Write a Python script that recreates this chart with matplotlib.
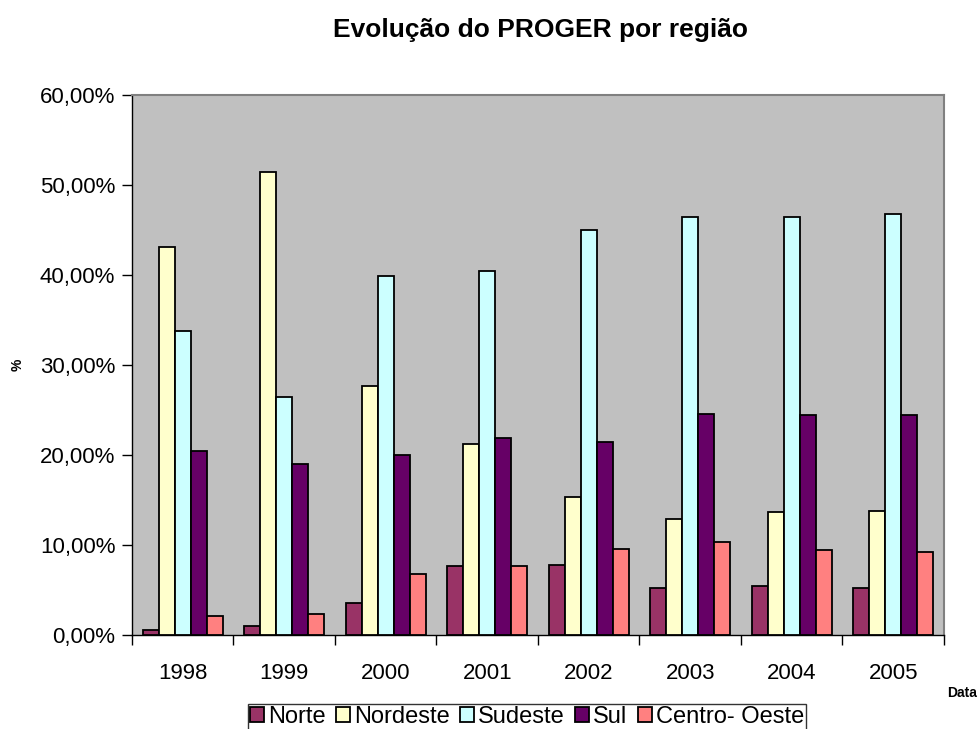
import matplotlib.pyplot as plt
import numpy as np
from matplotlib.ticker import FuncFormatter

plt.rcParams['font.family'] = ['Liberation Sans', 'DejaVu Sans']

anos = ['1998', '1999', '2000', '2001', '2002', '2003', '2004', '2005']
regioes = ['Norte', 'Nordeste', 'Sudeste', 'Sul', 'Centro- Oeste']
cores = ['#993366', '#FFFFCC', '#CCFFFF', '#660066', '#FF8080']

norte = [0.57, 1.0, 3.6, 7.65, 7.8, 5.2, 5.4, 5.25]
nordeste = [43.1, 51.4, 27.7, 21.2, 15.3, 12.9, 13.7, 13.8]
sudeste = [33.8, 26.4, 39.9, 40.5, 45.0, 46.5, 46.4, 46.8]
sul = [20.5, 19.0, 20.0, 21.9, 21.4, 24.6, 24.5, 24.4]
centro_oeste = [2.15, 2.3, 6.75, 7.65, 9.6, 10.3, 9.5, 9.2]
series = [norte, nordeste, sudeste, sul, centro_oeste]

fig = plt.figure(figsize=(9.79, 7.29), dpi=100)
ax = fig.add_axes([132/979, 1 - 635/729, 812/979, 540/729])
ax.set_facecolor('#C0C0C0')

x = np.arange(len(anos))
w = 0.158
for i, (nome, vals) in enumerate(zip(regioes, series)):
    ax.bar(x + (i - 2) * w, vals, w, color=cores[i], edgecolor='black',
           linewidth=1.3, label=nome, zorder=3)

ax.set_xlim(-0.5, len(anos) - 0.5)
ax.set_ylim(0, 60)
ax.set_yticks(np.arange(0, 61, 10))
ax.yaxis.set_major_formatter(FuncFormatter(lambda v, p: f'{v:.2f}%'.replace('.', ',')))

# ticks at the category edges, labels in the middle
ax.set_xticks(np.arange(len(anos) + 1) - 0.5)
ax.set_xticklabels([])
ax.set_xticks(x, minor=True)
ax.set_xticklabels(anos, minor=True)
ax.tick_params(axis='x', which='major', length=7, width=1, direction='out')
ax.tick_params(axis='x', which='minor', length=0, pad=20, labelsize=16)
ax.tick_params(axis='y', length=7, width=1, direction='out', labelsize=16, pad=5)

for s in ['top', 'right']:
    ax.spines[s].set_color('#808080')
    ax.spines[s].set_linewidth(1.5)
for s in ['left', 'bottom']:
    ax.spines[s].set_color('black')
    ax.spines[s].set_linewidth(1)

fig.text(541/979, 1 - 30/729, 'Evolução do PROGER por região', ha='center',
         va='center', fontsize=19, fontweight='bold')
fig.text(18/979, 1 - 365/729, '%', rotation=90, ha='center', va='center',
         fontsize=10, fontweight='bold')
fig.text(962/979, 1 - 693/729, 'Data', ha='center', va='center',
         fontsize=10, fontweight='bold')

leg = fig.legend(loc='center', bbox_to_anchor=(527/979, 1 - 717/729), ncol=5,
                 fontsize=17, frameon=True, fancybox=False, edgecolor='black',
                 handlelength=0.6, handleheight=0.6, handletextpad=0.15,
                 columnspacing=0.45, borderpad=0.1, borderaxespad=0)
leg.get_frame().set_linewidth(1)

fig.savefig('out.png', dpi=100)
